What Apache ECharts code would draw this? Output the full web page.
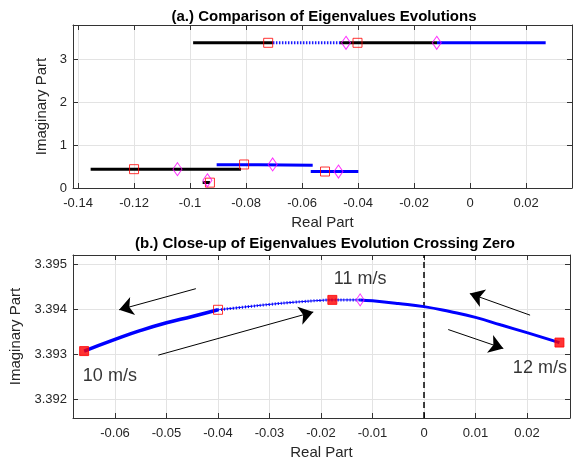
<!DOCTYPE html>
<html><head><meta charset="utf-8">
<script src="https://cdn.jsdelivr.net/npm/echarts@6/dist/echarts.min.js"></script>
<style>html,body{margin:0;padding:0;background:#fff}#c{width:574px;height:462px}</style>
</head><body><div id="c"></div>
<script>
// ---------- panel (a) ----------
const aTitle = '(a.) Comparison of Eigenvalues Evolutions';
const aXTicks = [-0.14, -0.12, -0.1, -0.08, -0.06, -0.04, -0.02, 0, 0.02];
const aYTicks = [0, 1, 2, 3];
const aBlackHigh1 = [[-0.0989, 3.394], [-0.0704, 3.394]];
const aDottedHigh = [[-0.0704, 3.394], [-0.0464, 3.394]];
const aBlackHigh2 = [[-0.0464, 3.394], [-0.0118, 3.394]];
const aBlueHigh = [[-0.0118, 3.394], [0.0270, 3.394]];
const aBlackLow = [[-0.1355, 0.44], [-0.0818, 0.44]];
const aBlackSmall = [[-0.0955, 0.13], [-0.0929, 0.13]];
const aBlueMid = [[-0.0905, 0.545], [-0.0755, 0.545], [-0.0755, 0.532], [-0.0562, 0.532]];
const aBlueLow = [[-0.0569, 0.385], [-0.0399, 0.385]];
const aSquares = [[-0.0721, 3.394], [-0.0402, 3.394], [-0.12, 0.44], [-0.0807, 0.55], [-0.0518, 0.385], [-0.0929, 0.125]];
const aDiamonds = [[-0.0443, 3.394], [-0.0119, 3.394], [-0.1045, 0.44], [-0.0705, 0.55], [-0.047, 0.385], [-0.0938, 0.18]];

// ---------- panel (b) ----------
const bTitle = '(b.) Close-up of Eigenvalues Evolution Crossing Zero';
const bXTicks = [-0.06, -0.05, -0.04, -0.03, -0.02, -0.01, 0, 0.01, 0.02];
const bYTicks = [3.392, 3.393, 3.394, 3.395];
const bSolid1 = [[-0.066, 3.39307], [-0.06, 3.39333], [-0.055, 3.39353], [-0.05, 3.3937], [-0.045, 3.39384], [-0.04, 3.39399]];
const bDotted = [[-0.04, 3.39399], [-0.035, 3.39405], [-0.03, 3.39411], [-0.025, 3.39416], [-0.02, 3.3942], [-0.0178, 3.39421], [-0.015, 3.39421], [-0.0124, 3.39421]];
const bSolid2 = [[-0.0124, 3.39421], [-0.01, 3.39419], [-0.005, 3.39413], [0, 3.39406], [0.005, 3.39395], [0.01, 3.39382], [0.015, 3.39365], [0.02, 3.39348], [0.0263, 3.39326]];
const bFilled = [[-0.066, 3.39307], [-0.0178, 3.39421], [0.0263, 3.39326]];
const bOpenSquare = [[-0.04, 3.39399]];
const bDiamond = [[-0.0124, 3.39421]];
const bZeroLine = [[0, 3.39158], [0, 3.39521]];
const bSpeedText = ['10 m/s', '11 m/s', '12 m/s'];
const bSpeedAt = [[-0.0610, 3.39252], [-0.0124, 3.39467], [0.0225, 3.39270]];
const bArrows = [
  [[-0.0443, 3.39446], [-0.0592, 3.39399]],
  [[-0.0516, 3.39298], [-0.0215, 3.39394]],
  [[0.0206, 3.39387], [0.0089, 3.39435]],
  [[0.0047, 3.39355], [0.0154, 3.39313]]
];

const FONT = 'Liberation Sans, Arial, sans-serif';
const TXT = '#262626';
const GRIDC = '#e3e3e3';
const BOX = '#333333';

function xAx(grid, min, max, ticks, name, pos) {
  const main = pos === 'bottom';
  return {
    type: 'value', gridIndex: grid, position: pos, min: min, max: max,
    name: main ? name : '', nameLocation: 'middle', nameGap: 27,
    nameTextStyle: { fontFamily: FONT, fontSize: 15, color: TXT },
    axisLine: { show: true, onZero: false, lineStyle: { color: BOX, width: 1 } },
    axisTick: { show: true, inside: true, length: 5, customValues: ticks, lineStyle: { color: BOX } },
    axisLabel: { show: main, customValues: ticks, fontFamily: FONT, fontSize: 13, color: TXT, margin: 9,
      formatter: v => String(+v.toFixed(4)) },
    splitLine: { show: main, lineStyle: { color: GRIDC, width: 1 } }
  };
}
function yAx(grid, min, max, ticks, name, pos, gap) {
  const main = pos === 'left';
  return {
    type: 'value', gridIndex: grid, position: pos, min: min, max: max,
    name: main ? name : '', nameLocation: 'middle', nameGap: gap,
    nameTextStyle: { fontFamily: FONT, fontSize: 15, color: TXT },
    axisLine: { show: true, onZero: false, lineStyle: { color: BOX, width: 1 } },
    axisTick: { show: true, inside: true, length: 5, customValues: ticks, lineStyle: { color: BOX } },
    axisLabel: { show: main, customValues: ticks, fontFamily: FONT, fontSize: 13, color: TXT, margin: 6,
      formatter: v => String(+v.toFixed(4)) },
    splitLine: { show: main, lineStyle: { color: GRIDC, width: 1 } }
  };
}

function seg(data, xi, yi, color, width, type) {
  return { type: 'line', xAxisIndex: xi, yAxisIndex: yi, data: data, symbol: 'none', silent: true,
    animation: false, lineStyle: { color: color, width: width, type: type || 'solid', cap: 'butt' }, z: 3 };
}
function marks(data, xi, yi, symbol, size, color, filled) {
  return { type: 'scatter', xAxisIndex: xi, yAxisIndex: yi, data: data, symbol: symbol, symbolSize: size,
    silent: true, animation: false, z: 5,
    itemStyle: { color: filled ? color : 'rgba(0,0,0,0)', borderColor: color, borderWidth: 1 } };
}

const chart = echarts.init(document.getElementById('c'), null, { renderer: 'canvas' });
chart.setOption({
  backgroundColor: '#ffffff',
  animation: false,
  title: [
    { text: aTitle, left: 319, top: 4, textAlign: 'center',
      textStyle: { fontFamily: FONT, fontSize: 15, fontWeight: 'bold', color: '#000' } },
    { text: bTitle, left: 320, top: 231, textAlign: 'center',
      textStyle: { fontFamily: FONT, fontSize: 15, fontWeight: 'bold', color: '#000' } }
  ],
  grid: [
    { left: 73, right: 2, top: 25, height: 163, outerBoundsMode: 'none', containLabel: false },
    { left: 73, right: 4, top: 255, height: 163, outerBoundsMode: 'none', containLabel: false }
  ],
  xAxis: [
    xAx(0, -0.1418, 0.0364, aXTicks, 'Real Part', 'bottom'),
    xAx(0, -0.1418, 0.0364, aXTicks, '', 'top'),
    xAx(1, -0.06816, 0.02835, bXTicks, 'Real Part', 'bottom'),
    xAx(1, -0.06816, 0.02835, bXTicks, '', 'top')
  ],
  yAxis: [
    yAx(0, 0, 3.81, aYTicks, 'Imaginary Part', 'left', 17),
    yAx(0, 0, 3.81, aYTicks, '', 'right', 0),
    yAx(1, 3.39158, 3.39521, bYTicks, 'Imaginary Part', 'left', 44),
    yAx(1, 3.39158, 3.39521, bYTicks, '', 'right', 0)
  ],
  series: [
    seg(aBlackHigh1, 0, 0, '#000000', 3),
    seg(aDottedHigh, 0, 0, '#1a1aff', 3, [1.5, 1.5]),
    seg(aBlackHigh2, 0, 0, '#000000', 3),
    seg(aBlueHigh, 0, 0, '#0000ff', 3),
    seg(aBlackLow, 0, 0, '#000000', 3),
    seg(aBlackSmall, 0, 0, '#000000', 3),
    seg(aBlueMid, 0, 0, '#0000ff', 3),
    seg(aBlueLow, 0, 0, '#0000ff', 3),
    marks(aSquares, 0, 0, 'rect', 9, '#ff0000', false),
    marks(aDiamonds, 0, 0, 'diamond', [9, 13], '#ff00ff', false),

    seg(bZeroLine, 2, 2, '#000000', 1.5, [6, 4]),
    Object.assign(seg(bSolid1, 2, 2, '#0000ff', 3.5), { smooth: true }),
    Object.assign(seg(bDotted, 2, 2, '#0000ff', 1), { smooth: true }),
    Object.assign(seg(bDotted, 2, 2, '#0000ff', 3, [1, 2]), { smooth: true }),
    Object.assign(seg(bSolid2, 2, 2, '#0000ff', 3), { smooth: true }),
    marks(bOpenSquare, 2, 2, 'rect', 9, '#ff0000', false),
    marks(bDiamond, 2, 2, 'diamond', [8, 12], '#ff00ff', false),
    marks(bFilled, 2, 2, 'rect', 9, '#ff0000', true),
    {
      type: 'lines', coordinateSystem: 'cartesian2d', xAxisIndex: 2, yAxisIndex: 2, silent: true,
      animation: false, z: 6,
      symbol: ['none', 'arrow'], symbolSize: 14,
      lineStyle: { color: '#000000', width: 1, opacity: 1, curveness: 0 },
      data: bArrows.map(c => ({ coords: c }))
    },
    {
      type: 'scatter', xAxisIndex: 2, yAxisIndex: 2, symbolSize: 0, silent: true, animation: false, z: 7,
      data: bSpeedAt.map((p, i) => ({ value: p, name: bSpeedText[i] })),
      label: { show: true, position: 'inside', formatter: p => p.name,
        fontFamily: FONT, fontSize: 18, color: '#000' }
    }
  ]
});
</script>
</body></html>
